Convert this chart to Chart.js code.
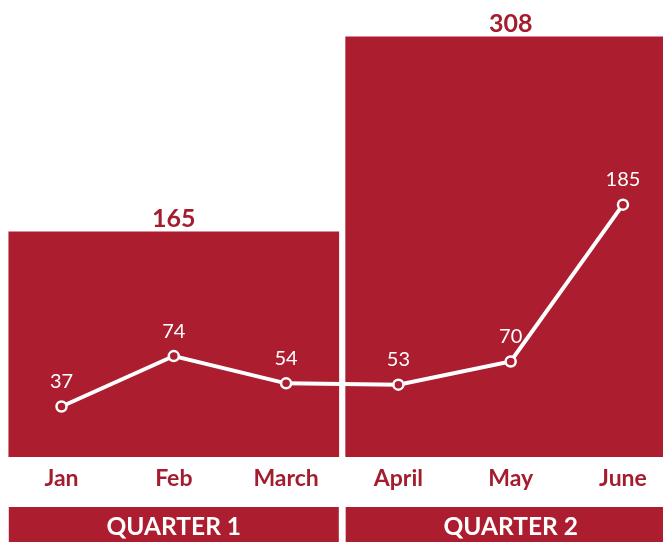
<!DOCTYPE html>
<html>
<head>
<meta charset="utf-8">
<script src="https://cdn.jsdelivr.net/npm/chart.js@4/dist/chart.umd.min.js"></script>
<style>
  body { margin: 0; background: #fff; overflow: hidden; }
  canvas { display: block; }
</style>
</head>
<body>
<canvas id="myChart" width="663" height="542"></canvas>
<script>
// data
const months = ['Jan', 'Feb', 'March', 'April', 'May', 'June'];
const monthly = [37, 74, 54, 53, 70, 185];
const quarters = ['QUARTER 1', 'QUARTER 2'];
const quarterTotals = [165, 308];
const quarterCenter = [1, 4]; // month index the quarter bar sits on

const red = '#AB1D2F';
const darkRed = '#A31D2E';
const font = "Lato, 'Open Sans', sans-serif";

// value labels + quarter bands under the month names
const labelsPlugin = {
  id: 'labels',
  afterDatasetsDraw(chart) {
    const ctx = chart.ctx;
    ctx.save();
    ctx.textAlign = 'center';
    ctx.textBaseline = 'middle';

    const bars = chart.getDatasetMeta(1).data;
    ctx.fillStyle = darkRed;
    ctx.font = 'bold 25px ' + font;
    bars.forEach((b, i) => {
      ctx.fillText(quarterTotals[i], b.x, b.y - 13);
    });

    const pts = chart.getDatasetMeta(0).data;
    ctx.fillStyle = '#fff';
    ctx.font = '20px ' + font;
    pts.forEach((p, i) => {
      ctx.fillText(monthly[i], p.x, p.y - 25);
    });

    // quarter bands at the bottom
    const w = chart.width;
    bars.forEach((b, i) => {
      const l = Math.max(0, b.x - b.width / 2);
      const r = Math.min(w, b.x + b.width / 2);
      ctx.fillStyle = red;
      ctx.fillRect(l, 507, r - l, chart.height - 507);
      ctx.fillStyle = '#fff';
      ctx.font = 'bold 24.5px ' + font;
      ctx.fillText(quarters[i], b.x, 527);
    });
    ctx.restore();
  }
};

const data = {
  datasets: [{
    type: 'line',
    label: 'Monthly',
    data: monthly.map((v, i) => ({ x: i, y: v })),
    borderColor: '#fff',
    borderWidth: 4,
    pointRadius: 5,
    pointBorderWidth: 2.5,
    pointBackgroundColor: red,
    pointBorderColor: '#fff',
    tension: 0,
    order: 0
  }, {
    type: 'bar',
    label: 'Quarter',
    data: quarterTotals.map((v, i) => ({ x: quarterCenter[i], y: v })),
    backgroundColor: red,
    borderWidth: 0,
    barThickness: 330,
    order: 1
  }]
};

const config = {
  data,
  options: {
    responsive: false,
    animation: false,
    layout: { padding: 0, autoPadding: false },
    plugins: { legend: { display: false }, tooltip: { enabled: false } },
    scales: {
      x: {
        type: 'linear',
        offset: false,
        min: -0.5476,
        max: 5.3565,
        grid: { display: false, drawTicks: false },
        border: { display: false },
        afterBuildTicks: s => { s.ticks = months.map((m, i) => ({ value: i })); },
        afterFit: s => { s.height = 85; },
        ticks: {
          padding: 8,
          maxRotation: 0,
          autoSkip: false,
          color: darkRed,
          font: { family: font, size: 23, weight: 'bold' },
          callback: v => months[v]
        }
      },
      y: {
        display: false,
        min: 0,
        max: 335
      }
    }
  },
  plugins: [labelsPlugin]
};

const myChart = new Chart(document.getElementById('myChart'), config);
</script>
</body>
</html>
